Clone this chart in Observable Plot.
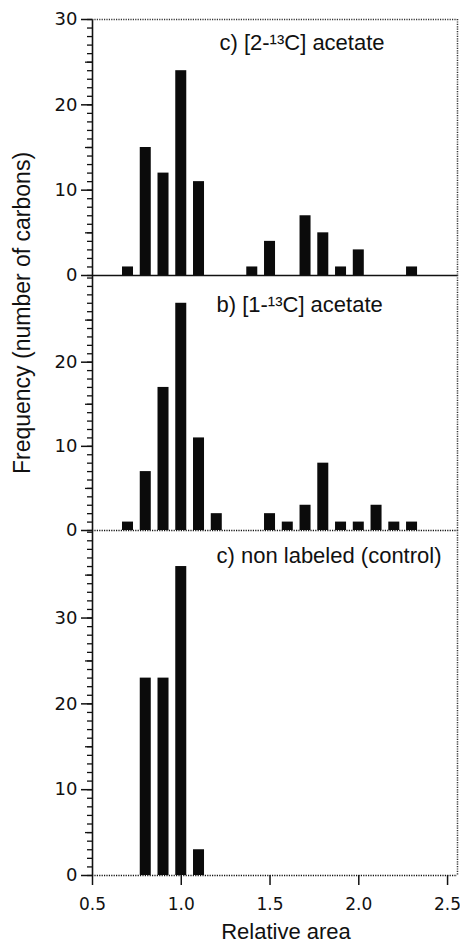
<!DOCTYPE html>
<html><head><meta charset="utf-8">
<script src="https://cdn.jsdelivr.net/npm/d3@7"></script>
<script src="https://cdn.jsdelivr.net/npm/@observablehq/plot@0.6"></script>
<style>
body{margin:0;background:#fff;}
#chart{position:relative;width:460px;height:943px;overflow:hidden;background:#fff;}
#chart svg{position:absolute;left:0;overflow:visible;background:transparent;}
</style></head><body><div id="chart"></div>
<script>
// ---- data ----
const xLabel = "Relative area";
const yLabel = "Frequency (number of carbons)";
const xTicks = [0.5, 1.0, 1.5, 2.0, 2.5];
const panelLabels = ["c) [2-\u00B9\u00B3C] acetate", "b) [1-\u00B9\u00B3C] acetate", "c) non labeled (control)"];

const areaTop = [0.7, 0.8, 0.9, 1.0, 1.1, 1.4, 1.5, 1.7, 1.8, 1.9, 2.0, 2.3];
const countTop = [1, 15, 12, 24, 11, 1, 4, 7, 5, 1, 3, 1];

const areaMid = [0.7, 0.8, 0.9, 1.0, 1.1, 1.2, 1.5, 1.6, 1.7, 1.8, 1.9, 2.0, 2.1, 2.2, 2.3];
const countMid = [1, 7, 17, 27, 11, 2, 2, 1, 3, 8, 1, 1, 3, 1, 1];

const areaBot = [0.8, 0.9, 1.0, 1.1];
const countBot = [23, 23, 36, 3];

const yTickLabelsTop = [0, 10, 20, 30];
const yTickLabelsMid = [0, 10, 20];
const yTickLabelsBot = [0, 10, 20, 30];

// ---- layout ----
const sans = "'Liberation Sans', Arial, Helvetica, sans-serif";
const digitFont = "'DejaVu Sans', sans-serif";
const ink = "#111";
const xMin = 0.5, xMax = 2.556;
const halfW = 0.031;

function panel(cfg) {
  const bars = cfg.areas.map((a, i) => ({area: a, count: cfg.counts[i]}));
  const top = Math.floor(cfg.yMax);
  const minor = d3.range(0, top + 1);
  const medium = minor.filter(v => v % 10 === 5);
  const marks = [
    Plot.rectY(bars, {x1: d => d.area - halfW, x2: d => d.area + halfW, y: "count", fill: "#0b0b0b"}),
    Plot.ruleY([0], {stroke: ink, strokeWidth: 1.5, strokeDasharray: cfg.baseDash}),
    Plot.ruleX([xMin], {stroke: ink, strokeWidth: 1.6}),
    Plot.ruleX([xMax], {stroke: "#333", strokeWidth: 1.5, strokeDasharray: "1.2,1.2"}),
    Plot.axisY(minor, {tickSize: 5, fill: "none", stroke: ink, strokeWidth: 1.3}),
    Plot.axisY(medium, {tickSize: 7, fill: "none", stroke: ink, strokeWidth: 1.3}),
    Plot.axisY(cfg.labels, {tickSize: 11, tickPadding: 4, fontSize: 18, fontFamily: digitFont, fill: ink, stroke: ink, strokeWidth: 1.5, label: null}),
    Plot.text([cfg.title], {frameAnchor: "top-left", textAnchor: "start", lineAnchor: "top", dx: cfg.tdx, dy: cfg.tdy, fontSize: 22, fontFamily: sans, fill: ink})
  ];
  if (cfg.extra) marks.push(...cfg.extra);
  const p = Plot.plot({
    width: 460, height: cfg.height,
    marginLeft: 92, marginRight: 3, marginTop: cfg.mt, marginBottom: cfg.mb,
    style: {background: "transparent", overflow: "visible", fontFamily: sans, color: ink},
    x: {domain: [xMin, xMax], axis: cfg.xAxis ? undefined : null},
    y: {domain: [0, cfg.yMax]},
    marks
  });
  p.style.top = cfg.top + "px";
  document.getElementById("chart").appendChild(p);
}

panel({
  areas: areaTop, counts: countTop, yMax: 30, labels: yTickLabelsTop, title: panelLabels[0],
  top: 0, height: 275, mt: 19, mb: 0, baseDash: null, tdx: 127, tdy: 15,
  extra: [Plot.ruleY([30], {stroke: "#333", strokeWidth: 1.5, strokeDasharray: "1.2,1.2"})]
});
panel({
  areas: areaMid, counts: countMid, yMax: 30.3, labels: yTickLabelsMid, title: panelLabels[1],
  top: 275, height: 255, mt: 0, mb: 0, baseDash: "1.2,1.2", tdx: 124, tdy: 21,
  extra: [Plot.text([yLabel], {frameAnchor: "left", textAnchor: "middle", rotate: -90, dx: -70, dy: -90, fontSize: 23, fontFamily: sans, fill: ink})]
});
panel({
  areas: areaBot, counts: countBot, yMax: 40.2, labels: yTickLabelsBot, title: panelLabels[2],
  top: 530, height: 413, mt: 0, mb: 68, baseDash: "1.2,1.2", tdx: 124, tdy: 17, xAxis: true,
  extra: [
    Plot.axisX(xTicks, {tickSize: 10, tickPadding: 12, fontSize: 17, fontFamily: digitFont, tickFormat: d3.format(".1f"), fill: ink, stroke: ink, strokeWidth: 1.5, label: null}),
    Plot.text([xLabel], {frameAnchor: "bottom", dx: 11, dy: 63, fontSize: 22, fontFamily: sans, fill: ink})
  ]
});
</script></body></html>
